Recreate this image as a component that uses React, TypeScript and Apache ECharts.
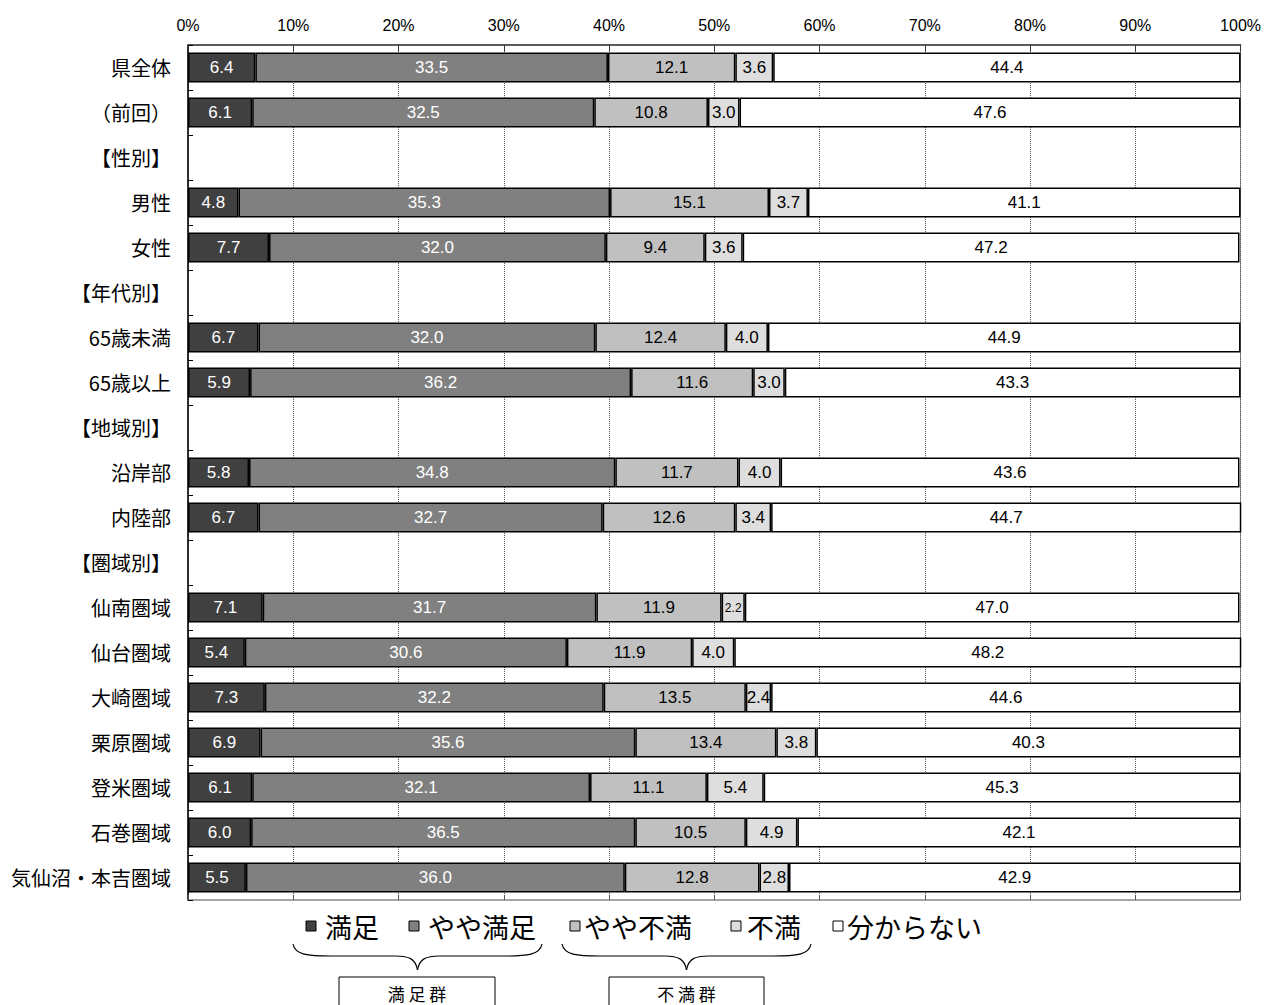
import React, { useEffect, useRef } from "react";
import * as echarts from "echarts";

const categories = [
  "県全体", "（前回）", "【性別】", "男性", "女性", "【年代別】", "65歳未満", "65歳以上",
  "【地域別】", "沿岸部", "内陸部", "【圏域別】", "仙南圏域", "仙台圏域", "大崎圏域",
  "栗原圏域", "登米圏域", "石巻圏域", "気仙沼・本吉圏域",
];
const seriesNames = ["満足", "やや満足", "やや不満", "不満", "分からない"];
const satisfied = [6.4, 6.1, null, 4.8, 7.7, null, 6.7, 5.9, null, 5.8, 6.7, null, 7.1, 5.4, 7.3, 6.9, 6.1, 6.0, 5.5];
const somewhatSatisfied = [33.5, 32.5, null, 35.3, 32.0, null, 32.0, 36.2, null, 34.8, 32.7, null, 31.7, 30.6, 32.2, 35.6, 32.1, 36.5, 36.0];
const somewhatDissatisfied = [12.1, 10.8, null, 15.1, 9.4, null, 12.4, 11.6, null, 11.7, 12.6, null, 11.9, 11.9, 13.5, 13.4, 11.1, 10.5, 12.8];
const dissatisfied = [3.6, 3.0, null, 3.7, 3.6, null, 4.0, 3.0, null, 4.0, 3.4, null, 2.2, 4.0, 2.4, 3.8, 5.4, 4.9, 2.8];
const unknown = [44.4, 47.6, null, 41.1, 47.2, null, 44.9, 43.3, null, 43.6, 44.7, null, 47.0, 48.2, 44.6, 40.3, 45.3, 42.1, 42.9];
const tickLabels = ["0%", "10%", "20%", "30%", "40%", "50%", "60%", "70%", "80%", "90%", "100%"];
const groupLabels = ["満 足 群", "不 満 群"];

const colors = ["#404040", "#808080", "#c0c0c0", "#dedede", "#ffffff"];
const labelColors = ["#ffffff", "#ffffff", "#000000", "#000000", "#000000"];
const NUM_FONT = "'Liberation Sans Narrow', 'Liberation Sans', Arial, sans-serif";
const JP_FONT = "'Noto Sans CJK JP', sans-serif";

function brace(x1: number, x2: number, yTop: number, yMid: number, yTip: number) {
  const cx = (x1 + x2) / 2;
  const st = { stroke: "#000", lineWidth: 1.2, fill: "none" };
  const a = x1 + 38;
  const b = cx - 22;
  const c = cx + 22;
  const d = x2 - 38;
  return [
    { type: "bezierCurve", shape: { x1, y1: yTop, cpx1: x1 + 2, cpy1: yMid - 1, cpx2: x1 + 15, cpy2: yMid, x2: a, y2: yMid }, style: st },
    { type: "line", shape: { x1: a, y1: yMid, x2: b, y2: yMid }, style: st },
    { type: "bezierCurve", shape: { x1: b, y1: yMid, cpx1: cx - 8, cpy1: yMid, cpx2: cx - 2, cpy2: yMid + 3, x2: cx, y2: yTip }, style: st },
    { type: "bezierCurve", shape: { x1: cx, y1: yTip, cpx1: cx + 2, cpy1: yMid + 3, cpx2: cx + 8, cpy2: yMid, x2: c, y2: yMid }, style: st },
    { type: "line", shape: { x1: c, y1: yMid, x2: d, y2: yMid }, style: st },
    { type: "bezierCurve", shape: { x1: d, y1: yMid, cpx1: x2 - 15, cpy1: yMid, cpx2: x2 - 2, cpy2: yMid - 1, x2, y2: yTop }, style: st },
  ];
}

export default function App() {
  const ref = useRef<HTMLDivElement>(null);
  useEffect(() => {
    if (!ref.current) return;
    const chart = echarts.init(ref.current, null, { renderer: "svg" });
    const all = [satisfied, somewhatSatisfied, somewhatDissatisfied, dissatisfied, unknown];

    const series = all.map((arr, i) => ({
      name: seriesNames[i],
      type: "bar",
      stack: "total",
      barWidth: 30,
      xAxisIndex: 0,
      itemStyle: { color: colors[i], borderColor: "#000", borderWidth: 1.5 },
      label: {
        show: true,
        position: "inside",
        color: labelColors[i],
        fontSize: 17,
        fontFamily: NUM_FONT,
        formatter: (p: any) => Number(p.value).toFixed(1),
      },
      data: arr.map((v) =>
        v === null ? "-" : i === 3 && v < 2.3 ? { value: v, label: { fontSize: 12 } } : v
      ),
    }));

    const legendItems = [
      { iconX: 306, textX: 325 },
      { iconX: 409, textX: 428 },
      { iconX: 570, textX: 584 },
      { iconX: 731, textX: 747 },
      { iconX: 833, textX: 847 },
    ];
    const legendGraphics: any[] = [];
    legendItems.forEach((it, i) => {
      legendGraphics.push({
        type: "rect",
        shape: { x: it.iconX, y: 921, width: 10, height: 10 },
        style: { fill: colors[i], stroke: "#000", lineWidth: 1 },
      });
      legendGraphics.push({
        type: "text",
        x: it.textX,
        y: 926,
        style: { text: seriesNames[i], font: `27px ${JP_FONT}`, fill: "#000", verticalAlign: "middle" },
      });
    });

    const boxes = [
      { x1: 339, x2: 495, bx1: 293, bx2: 542 },
      { x1: 609, x2: 764, bx1: 562, bx2: 811 },
    ];
    const groupGraphics: any[] = [];
    boxes.forEach((b, i) => {
      groupGraphics.push(...brace(b.bx1, b.bx2, 944, 956, 970));
      groupGraphics.push({
        type: "rect",
        shape: { x: b.x1, y: 977, width: b.x2 - b.x1, height: 40 },
        style: { fill: "#fff", stroke: "#000", lineWidth: 1 },
      });
      groupGraphics.push({
        type: "text",
        x: (b.x1 + b.x2) / 2,
        y: 993,
        style: { text: groupLabels[i], font: `17px ${JP_FONT}`, fill: "#000", align: "center", verticalAlign: "middle" },
      });
    });

    chart.setOption({
      animation: false,
      backgroundColor: "#fff",
      grid: { left: 188, right: 20, top: 45, bottom: 105, show: true, borderColor: "#999", borderWidth: 1 },
      xAxis: [
        {
          type: "value",
          position: "top",
          min: 0,
          max: 100,
          interval: 10,
          axisLine: { show: true, lineStyle: { color: "#333", width: 1.5 } },
          axisTick: { show: true, inside: true, length: 6, lineStyle: { color: "#333" } },
          axisLabel: {
            margin: 12,
            color: "#000",
            fontSize: 16,
            fontFamily: NUM_FONT,
            formatter: (v: number) => tickLabels[Math.round(v / 10)],
          },
          splitLine: { show: true, lineStyle: { type: "dotted", color: "#555", width: 1 } },
        },
        {
          type: "value",
          position: "bottom",
          min: 0,
          max: 100,
          interval: 10,
          axisLine: { show: true, lineStyle: { color: "#999", width: 1.5 } },
          axisTick: { show: true, inside: true, length: 5, lineStyle: { color: "#555" } },
          axisLabel: { show: false },
          splitLine: { show: false },
        },
      ],
      yAxis: {
        type: "category",
        inverse: true,
        data: categories,
        axisLine: { show: true, lineStyle: { color: "#000", width: 1.5 } },
        axisTick: { show: true, inside: true, length: 5, lineStyle: { color: "#000" } },
        axisLabel: { margin: 17, color: "#000", fontSize: 20, fontFamily: JP_FONT },
      },
      series,
      graphic: [...legendGraphics, ...groupGraphics],
    });
    return () => chart.dispose();
  }, []);
  return (
    <div
      ref={ref}
      style={{ position: "absolute", left: 0, top: 0, width: 1264, height: 1005, background: "#fff" }}
    />
  );
}
